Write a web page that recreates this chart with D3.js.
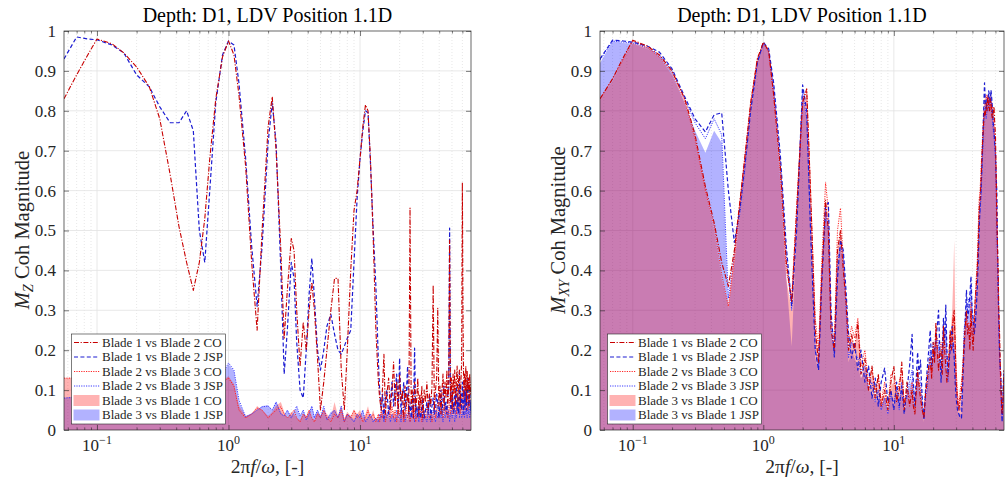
<!DOCTYPE html>
<html>
<head>
<meta charset="utf-8">
<script src="https://cdn.jsdelivr.net/npm/d3@7"></script>
<style>
  body { margin: 0; background: #fff; }
  text { font-family: "Liberation Serif", "DejaVu Serif", serif; fill: #262626; }
</style>
</head>
<body>
<svg width="1008" height="481"></svg>
<script>
// frequency ratio 2*pi*f/omega, shared by every series
var freq = [0.0561,0.07,0.085,0.1,0.13,0.16,0.2,0.25,0.3,0.36,
  0.42,0.48,0.54,0.6,0.66,0.72,0.8,0.9,1.0,1.1,
  1.2,1.35,1.5,1.65,1.8,2.0,2.15,2.3,2.5,2.65,
  2.8,3.0,3.15,3.3,3.5,3.7,3.9,4.1,4.3,4.5,
  4.75,5.0,5.3,5.6,6.0,6.4,6.8,7.2,7.6,8.0,
  8.5,9.0,9.5,10,10.5,11,11.5,12,12.6,13.2,
  13.8,14.1,14.5,14.85,15.2,15.6,16,16.5,17,17.5,
  18,18.5,19,19.5,20,20.5,21,21.5,22,22.5,
  23,23.5,24,24.5,25,25.5,26,26.5,27,27.5,
  28,28.5,29,29.5,30,30.75,31.5,32.25,33,33.75,
  34.5,35.25,36,36.75,37.5,38.25,39,39.75,40.5,41.25,
  42,42.75,43.5,44.25,45,45.75,46.5,47.25,48,48.75,
  49.5,50.25,51,51.75,52.5,53.25,54,54.75,55.5,56.25,
  57,57.75,58.5,59.25,60,60.75,61.5,62.25,63,63.75,
  64.5,65.25,66,66.75,67.5,68.25,69,69.8];

// M_Z coherence (left panel)
var mzCo12 = [0.83,0.89,0.94,0.98,0.968,0.945,0.91,0.86,0.78,0.64,
  0.51,0.42,0.35,0.42,0.53,0.68,0.83,0.935,0.975,0.94,
  0.84,0.66,0.42,0.25,0.5,0.76,0.835,0.7,0.45,0.23,
  0.35,0.48,0.45,0.3,0.16,0.27,0.2,0.3,0.37,0.3,
  0.18,0.05,0.12,0.2,0.3,0.38,0.38,0.15,0.05,0.2,
  0.4,0.55,0.6,0.68,0.76,0.815,0.8,0.68,0.48,0.25,
  0.12,0.08,0.05,0.11,0.19,0.04,0.09,0.13,0.05,0.1,
  0.17,0.06,0.12,0.04,0.14,0.07,0.1,0.03,0.11,0.06,
  0.09,0.04,0.556,0.06,0.1,0.03,0.12,0.05,0.08,0.13,
  0.04,0.09,0.06,0.11,0.03,0.1,0.07,0.12,0.05,0.09,
  0.06,0.11,0.363,0.05,0.1,0.13,0.305,0.06,0.11,0.04,
  0.1,0.14,0.05,0.12,0.08,0.15,0.06,0.11,0.476,0.07,
  0.13,0.05,0.14,0.09,0.15,0.06,0.12,0.16,0.07,0.13,
  0.15,0.06,0.12,0.17,0.62,0.27,0.08,0.14,0.1,0.16,
  0.07,0.15,0.1,0.13,0.06,0.14,0.09,0.12];
var mzJsp12 = [0.93,0.985,0.98,0.978,0.965,0.945,0.89,0.86,0.81,0.77,
  0.77,0.8,0.75,0.5,0.42,0.6,0.82,0.94,0.975,0.965,
  0.87,0.68,0.46,0.31,0.46,0.72,0.82,0.72,0.4,0.14,
  0.25,0.42,0.38,0.22,0.1,0.08,0.2,0.34,0.43,0.33,
  0.2,0.15,0.2,0.26,0.29,0.24,0.2,0.19,0.21,0.23,
  0.25,0.42,0.58,0.68,0.75,0.8,0.795,0.67,0.5,0.36,
  0.17,0.1,0.05,0.09,0.03,0.08,0.1,0.04,0.07,0.12,
  0.06,0.1,0.14,0.05,0.18,0.04,0.08,0.12,0.05,0.09,
  0.16,0.04,0.07,0.03,0.08,0.05,0.205,0.04,0.06,0.03,
  0.07,0.04,0.03,0.06,0.08,0.03,0.05,0.07,0.04,0.09,
  0.03,0.06,0.08,0.04,0.05,0.09,0.07,0.03,0.06,0.1,
  0.04,0.08,0.11,0.05,0.07,0.04,0.09,0.12,0.506,0.06,
  0.05,0.1,0.07,0.04,0.09,0.06,0.11,0.05,0.08,0.04,
  0.143,0.06,0.09,0.05,0.12,0.07,0.04,0.1,0.06,0.11,
  0.05,0.09,0.13,0.06,0.08,0.11,0.05,0.07];
var mzCo23 = [0.13,0.13,0.125,0.12,0.115,0.11,0.1,0.1,0.09,0.08,
  0.07,0.06,0.05,0.05,0.06,0.08,0.1,0.12,0.13,0.11,
  0.05,0.03,0.04,0.055,0.05,0.03,0.04,0.05,0.058,0.04,
  0.03,0.04,0.05,0.03,0.02,0.04,0.03,0.05,0.03,0.02,
  0.04,0.03,0.05,0.03,0.02,0.04,0.03,0.05,0.02,0.04,
  0.03,0.05,0.03,0.04,0.02,0.03,0.05,0.03,0.04,0.02,
  0.04,0.02,0.05,0.03,0.06,0.02,0.04,0.05,0.03,0.06,
  0.03,0.05,0.02,0.06,0.04,0.03,0.05,0.02,0.04,0.06,
  0.03,0.05,0.02,0.04,0.06,0.03,0.05,0.02,0.04,0.03,
  0.05,0.03,0.06,0.02,0.04,0.05,0.03,0.06,0.04,0.03,
  0.05,0.02,0.04,0.06,0.03,0.05,0.07,0.03,0.05,0.04,
  0.06,0.03,0.05,0.07,0.04,0.06,0.03,0.05,0.08,0.04,
  0.06,0.08,0.04,0.07,0.05,0.09,0.04,0.06,0.08,0.05,
  0.07,0.04,0.09,0.05,0.07,0.1,0.06,0.08,0.05,0.09,
  0.06,0.1,0.05,0.08,0.06,0.09,0.07,0.06];
var mzJsp23 = [0.08,0.082,0.085,0.087,0.09,0.09,0.088,0.085,0.08,0.075,
  0.07,0.065,0.06,0.065,0.075,0.09,0.11,0.14,0.168,0.15,
  0.075,0.033,0.04,0.05,0.058,0.06,0.05,0.07,0.04,0.035,
  0.05,0.03,0.045,0.06,0.035,0.05,0.025,0.04,0.06,0.03,
  0.05,0.03,0.06,0.025,0.04,0.05,0.03,0.06,0.02,0.04,
  0.03,0.02,0.04,0.03,0.05,0.02,0.03,0.04,0.02,0.03,
  0.02,0.04,0.03,0.05,0.02,0.04,0.03,0.05,0.02,0.04,
  0.03,0.02,0.05,0.03,0.04,0.02,0.05,0.03,0.02,0.04,
  0.03,0.05,0.02,0.04,0.03,0.06,0.02,0.04,0.03,0.05,
  0.02,0.04,0.03,0.05,0.02,0.04,0.03,0.02,0.05,0.03,
  0.02,0.04,0.05,0.03,0.02,0.05,0.03,0.04,0.06,0.03,
  0.04,0.02,0.05,0.03,0.04,0.06,0.03,0.05,0.02,0.04,
  0.05,0.03,0.06,0.04,0.02,0.05,0.03,0.06,0.04,0.05,
  0.03,0.06,0.05,0.03,0.04,0.06,0.05,0.03,0.06,0.04,
  0.05,0.03,0.06,0.04,0.06,0.03,0.05,0.04];
var mzCo31 = [0.13,0.132,0.13,0.125,0.12,0.115,0.105,0.1,0.092,0.085,
  0.075,0.065,0.055,0.055,0.065,0.085,0.105,0.125,0.135,0.115,
  0.06,0.035,0.04,0.06,0.05,0.035,0.045,0.06,0.07,0.045,
  0.03,0.045,0.04,0.03,0.025,0.04,0.035,0.05,0.03,0.025,
  0.045,0.035,0.05,0.04,0.03,0.07,0.035,0.06,0.03,0.045,
  0.035,0.05,0.04,0.05,0.03,0.04,0.06,0.03,0.05,0.025,
  0.04,0.03,0.05,0.04,0.03,0.05,0.03,0.04,0.06,0.03,
  0.05,0.04,0.03,0.06,0.03,0.05,0.04,0.03,0.05,0.04,
  0.03,0.05,0.04,0.03,0.06,0.04,0.03,0.05,0.04,0.03,
  0.05,0.03,0.04,0.06,0.03,0.05,0.03,0.04,0.05,0.03,
  0.05,0.04,0.03,0.05,0.04,0.06,0.03,0.05,0.04,0.03,
  0.05,0.04,0.03,0.06,0.04,0.05,0.03,0.05,0.06,0.04,
  0.04,0.06,0.05,0.04,0.07,0.05,0.04,0.06,0.05,0.07,
  0.06,0.05,0.07,0.05,0.08,0.06,0.05,0.07,0.06,0.05,
  0.07,0.06,0.05,0.07,0.06,0.05,0.07,0.05];
var mzJsp31 = [0.08,0.085,0.09,0.09,0.092,0.092,0.09,0.086,0.082,0.078,
  0.072,0.067,0.062,0.068,0.08,0.095,0.115,0.14,0.165,0.148,
  0.07,0.035,0.042,0.05,0.06,0.062,0.05,0.072,0.045,0.035,
  0.05,0.035,0.045,0.055,0.035,0.05,0.03,0.045,0.06,0.035,
  0.05,0.035,0.055,0.03,0.045,0.05,0.035,0.06,0.025,0.04,
  0.035,0.025,0.04,0.035,0.05,0.025,0.035,0.04,0.025,0.03,
  0.025,0.035,0.04,0.03,0.045,0.03,0.05,0.035,0.025,0.04,
  0.035,0.03,0.04,0.025,0.035,0.045,0.03,0.04,0.05,0.03,
  0.025,0.035,0.04,0.03,0.05,0.035,0.025,0.04,0.03,0.035,
  0.04,0.025,0.035,0.03,0.025,0.04,0.03,0.045,0.03,0.05,
  0.025,0.035,0.04,0.03,0.025,0.045,0.035,0.03,0.05,0.04,
  0.03,0.04,0.025,0.045,0.035,0.04,0.03,0.05,0.035,0.04,
  0.05,0.035,0.04,0.03,0.025,0.05,0.035,0.045,0.04,0.03,
  0.055,0.035,0.045,0.03,0.05,0.04,0.055,0.035,0.045,0.05,
  0.05,0.04,0.035,0.055,0.045,0.035,0.05,0.045];

// M_XY coherence (right panel)
var mxyCo12 = [0.83,0.88,0.935,0.977,0.962,0.94,0.9,0.83,0.74,0.61,
  0.52,0.42,0.36,0.45,0.57,0.68,0.82,0.93,0.972,0.95,
  0.84,0.66,0.42,0.32,0.55,0.82,0.855,0.6,0.25,0.17,
  0.38,0.576,0.5,0.25,0.2,0.45,0.5,0.4,0.32,0.2,
  0.24,0.2,0.27,0.14,0.18,0.1,0.16,0.08,0.14,0.06,
  0.1,0.05,0.12,0.16,0.07,0.1,0.17,0.05,0.12,0.06,
  0.1,0.06,0.04,0.1,0.15,0.11,0.08,0.05,0.03,0.09,
  0.12,0.16,0.18,0.13,0.22,0.17,0.27,0.2,0.15,0.19,
  0.2,0.14,0.26,0.2,0.16,0.12,0.14,0.19,0.25,0.2,
  0.22,0.28,0.3,0.22,0.12,0.07,0.05,0.08,0.1,0.15,
  0.22,0.26,0.3,0.24,0.26,0.2,0.3,0.24,0.2,0.27,
  0.33,0.36,0.4,0.46,0.55,0.58,0.62,0.68,0.73,0.77,
  0.8,0.79,0.82,0.8,0.835,0.81,0.8,0.83,0.82,0.79,
  0.78,0.8,0.81,0.77,0.744,0.65,0.53,0.46,0.4,0.3,
  0.25,0.17,0.12,0.07,0.04,0.07,0.1,0.15];
var mxyJsp12 = [0.93,0.977,0.975,0.972,0.962,0.947,0.905,0.835,0.78,0.747,
  0.79,0.795,0.6,0.47,0.55,0.66,0.8,0.92,0.972,0.955,
  0.87,0.69,0.46,0.31,0.5,0.865,0.8,0.5,0.2,0.15,
  0.36,0.56,0.57,0.3,0.183,0.38,0.476,0.45,0.35,0.24,
  0.18,0.22,0.15,0.2,0.12,0.16,0.08,0.13,0.06,0.12,
  0.155,0.07,0.1,0.05,0.12,0.06,0.11,0.04,0.1,0.16,
  0.24,0.12,0.06,0.13,0.195,0.14,0.175,0.08,0.025,0.1,
  0.15,0.2,0.25,0.16,0.18,0.2,0.22,0.26,0.3,0.2,
  0.12,0.2,0.28,0.22,0.313,0.2,0.14,0.17,0.2,0.24,
  0.26,0.21,0.18,0.12,0.08,0.05,0.04,0.03,0.03,0.12,
  0.2,0.28,0.35,0.28,0.3,0.34,0.385,0.3,0.28,0.24,
  0.26,0.3,0.35,0.42,0.5,0.56,0.6,0.66,0.727,0.8,
  0.87,0.82,0.8,0.83,0.82,0.85,0.84,0.82,0.852,0.83,
  0.8,0.77,0.75,0.72,0.7,0.64,0.6,0.46,0.36,0.27,
  0.2,0.16,0.14,0.06,0.02,0.06,0.12,0.14];
var mxyCo23 = [0.83,0.88,0.93,0.975,0.958,0.935,0.895,0.825,0.73,0.6,
  0.51,0.39,0.31,0.43,0.56,0.68,0.82,0.93,0.97,0.945,
  0.84,0.64,0.4,0.33,0.56,0.83,0.85,0.6,0.28,0.2,
  0.42,0.62,0.55,0.28,0.22,0.5,0.556,0.42,0.33,0.22,
  0.26,0.23,0.28,0.16,0.2,0.12,0.15,0.1,0.13,0.07,
  0.12,0.06,0.14,0.13,0.08,0.12,0.15,0.07,0.1,0.08,
  0.12,0.08,0.05,0.09,0.13,0.12,0.1,0.06,0.04,0.1,
  0.14,0.15,0.16,0.14,0.2,0.18,0.25,0.21,0.18,0.2,
  0.22,0.18,0.24,0.22,0.2,0.17,0.16,0.2,0.24,0.22,
  0.26,0.29,0.28,0.2,0.15,0.09,0.06,0.1,0.12,0.16,
  0.2,0.24,0.28,0.26,0.27,0.24,0.32,0.26,0.22,0.28,
  0.32,0.38,0.42,0.5,0.576,0.6,0.65,0.7,0.75,0.79,
  0.82,0.83,0.84,0.82,0.84,0.83,0.83,0.81,0.8,0.82,
  0.81,0.78,0.76,0.73,0.7,0.62,0.55,0.44,0.33,0.27,
  0.22,0.15,0.1,0.07,0.05,0.06,0.08,0.13];
var mxyJsp23 = [0.927,0.975,0.972,0.97,0.957,0.94,0.9,0.83,0.77,0.73,
  0.78,0.74,0.33,0.44,0.54,0.65,0.8,0.92,0.968,0.95,
  0.86,0.67,0.44,0.3,0.52,0.85,0.78,0.52,0.2,0.16,
  0.38,0.55,0.5,0.26,0.19,0.42,0.46,0.44,0.3,0.18,
  0.22,0.2,0.18,0.14,0.16,0.1,0.12,0.07,0.1,0.05,
  0.08,0.04,0.09,0.07,0.1,0.05,0.12,0.06,0.08,0.12,
  0.15,0.1,0.07,0.1,0.14,0.13,0.12,0.07,0.03,0.08,
  0.1,0.15,0.2,0.18,0.22,0.19,0.2,0.23,0.22,0.17,
  0.15,0.2,0.25,0.23,0.26,0.18,0.12,0.17,0.22,0.21,
  0.2,0.22,0.2,0.14,0.1,0.07,0.05,0.05,0.06,0.15,
  0.25,0.28,0.32,0.3,0.33,0.32,0.36,0.3,0.25,0.26,
  0.28,0.33,0.38,0.45,0.52,0.55,0.58,0.64,0.7,0.76,
  0.8,0.79,0.78,0.8,0.8,0.81,0.82,0.83,0.83,0.8,
  0.77,0.75,0.74,0.71,0.68,0.6,0.5,0.42,0.35,0.25,
  0.18,0.15,0.12,0.07,0.03,0.06,0.1,0.15];
var mxyCo31 = [0.83,0.875,0.93,0.97,0.958,0.935,0.89,0.82,0.73,0.6,
  0.5,0.38,0.31,0.45,0.58,0.69,0.82,0.93,0.968,0.945,
  0.83,0.62,0.38,0.3,0.55,0.82,0.84,0.58,0.25,0.18,
  0.4,0.58,0.5,0.24,0.2,0.45,0.5,0.4,0.3,0.2,
  0.24,0.2,0.26,0.13,0.17,0.1,0.14,0.08,0.12,0.06,
  0.09,0.05,0.11,0.12,0.07,0.09,0.14,0.05,0.1,0.07,
  0.1,0.07,0.04,0.09,0.13,0.1,0.08,0.05,0.03,0.08,
  0.12,0.14,0.17,0.15,0.2,0.19,0.25,0.2,0.15,0.17,
  0.18,0.15,0.24,0.2,0.16,0.14,0.13,0.18,0.23,0.26,
  0.3,0.38,0.476,0.3,0.2,0.1,0.05,0.07,0.09,0.14,
  0.2,0.24,0.28,0.25,0.25,0.22,0.3,0.24,0.2,0.26,
  0.31,0.36,0.4,0.48,0.55,0.58,0.62,0.68,0.74,0.78,
  0.8,0.81,0.82,0.83,0.84,0.84,0.83,0.84,0.84,0.82,
  0.8,0.79,0.78,0.75,0.7,0.63,0.56,0.46,0.38,0.29,
  0.22,0.16,0.12,0.07,0.04,0.07,0.1,0.14];
var mxyJsp31 = [0.92,0.975,0.97,0.968,0.955,0.94,0.895,0.82,0.75,0.695,
  0.75,0.72,0.305,0.42,0.53,0.65,0.79,0.92,0.968,0.95,
  0.85,0.64,0.38,0.21,0.5,0.84,0.78,0.5,0.18,0.15,
  0.35,0.55,0.5,0.26,0.18,0.4,0.46,0.42,0.3,0.17,
  0.2,0.18,0.16,0.13,0.15,0.1,0.09,0.07,0.08,0.06,
  0.08,0.04,0.09,0.06,0.09,0.05,0.1,0.04,0.08,0.11,
  0.13,0.09,0.05,0.1,0.15,0.12,0.1,0.05,0.02,0.07,
  0.1,0.15,0.2,0.17,0.18,0.19,0.2,0.21,0.22,0.17,
  0.12,0.19,0.25,0.22,0.26,0.18,0.12,0.16,0.2,0.21,
  0.22,0.21,0.2,0.14,0.08,0.05,0.04,0.04,0.04,0.12,
  0.2,0.25,0.3,0.28,0.3,0.32,0.34,0.28,0.24,0.25,
  0.27,0.31,0.36,0.43,0.5,0.55,0.6,0.66,0.72,0.78,
  0.82,0.82,0.82,0.83,0.83,0.84,0.84,0.84,0.85,0.83,
  0.81,0.78,0.76,0.73,0.7,0.62,0.55,0.44,0.34,0.26,
  0.2,0.14,0.1,0.06,0.03,0.06,0.09,0.14];

var seriesNames = ["Blade 1 vs Blade 2 CO", "Blade 1 vs Blade 2 JSP",
  "Blade 2 vs Blade 3 CO", "Blade 2 vs Blade 3 JSP",
  "Blade 3 vs Blade 1 CO", "Blade 3 vs Blade 1 JSP"];
var xMajor = [0.1, 1, 10];
var xMinor = [0.06,0.07,0.08,0.09,0.2,0.3,0.4,0.5,0.6,0.7,0.8,0.9,
  2,3,4,5,6,7,8,9,20,30,40,50,60];
var yTicks = [0,0.1,0.2,0.3,0.4,0.5,0.6,0.7,0.8,0.9,1];

var lineStyles = [
  {color: "#c80000", dash: "5,1.6,1.2,1.6", width: 1.1},
  {color: "#1c1cd2", dash: "4,2.4", width: 1.2},
  {color: "#ff2626", dash: "1.2,1.2", width: 1},
  {color: "#3a3aff", dash: "1.2,1.2", width: 1}
];
var fillColors = ["#ff0000", "#0000ff"];

var svg = d3.select("svg");
var plotTop = 31, plotBottom = 430;

var panels = [
  {left: 64, right: 471, sub: "Z", lines: [mzCo12, mzJsp12, mzCo23, mzJsp23], fills: [mzCo31, mzJsp31]},
  {left: 600, right: 1004, sub: "XY", lines: [mxyCo12, mxyJsp12, mxyCo23, mxyJsp23], fills: [mxyCo31, mxyJsp31]}
];

panels.forEach(function(p, pi) {
  var x = d3.scaleLog().domain([0.0561, 69.8]).range([p.left, p.right]);
  var y = d3.scaleLinear().domain([0, 1]).range([plotBottom, plotTop]);
  var g = svg.append("g");

  // grid
  g.append("g").selectAll("line").data(xMinor).enter().append("line")
    .attr("x1", d => x(d)).attr("x2", d => x(d)).attr("y1", plotTop).attr("y2", plotBottom)
    .attr("stroke", "#d6d6d6").attr("stroke-dasharray", "1,2").attr("stroke-width", 0.6);
  g.append("g").selectAll("line").data(xMajor).enter().append("line")
    .attr("x1", d => x(d)).attr("x2", d => x(d)).attr("y1", plotTop).attr("y2", plotBottom)
    .attr("stroke", "#e2e2e2").attr("stroke-width", 0.8);
  g.append("g").selectAll("line").data(yTicks.slice(1, 10)).enter().append("line")
    .attr("x1", p.left).attr("x2", p.right).attr("y1", d => y(d)).attr("y2", d => y(d))
    .attr("stroke", "#e2e2e2").attr("stroke-width", 0.8);

  svg.append("clipPath").attr("id", "clip" + pi).append("rect")
    .attr("x", p.left).attr("y", plotTop).attr("width", p.right - p.left).attr("height", plotBottom - plotTop);
  var plot = g.append("g").attr("clip-path", "url(#clip" + pi + ")");

  var area = d3.area().x((d, i) => x(freq[i])).y0(y(0)).y1(d => y(d));
  var line = d3.line().x((d, i) => x(freq[i])).y(d => y(d));

  // JSP fill first, CO fill on top
  plot.append("path").datum(p.fills[1]).attr("d", area)
    .attr("fill", fillColors[1]).attr("fill-opacity", 0.3);
  plot.append("path").datum(p.fills[0]).attr("d", area)
    .attr("fill", fillColors[0]).attr("fill-opacity", 0.3);

  [3, 2, 1, 0].forEach(function(k) {
    var s = lineStyles[k];
    plot.append("path").datum(p.lines[k]).attr("d", line)
      .attr("fill", "none").attr("stroke", s.color).attr("stroke-width", s.width)
      .attr("stroke-dasharray", s.dash).attr("stroke-linejoin", "round");
  });

  // ticks, pointing inwards on all four sides
  function styleAxis(sel) {
    sel.attr("font-family", null);
    sel.select(".domain").remove();
    sel.selectAll("line").attr("stroke", "#262626").attr("stroke-width", 0.6);
  }
  g.append("g").attr("transform", "translate(0," + plotBottom + ")")
    .call(d3.axisBottom(x).tickValues(xMajor).tickSize(-5).tickFormat("")).call(styleAxis);
  g.append("g").attr("transform", "translate(0," + plotBottom + ")")
    .call(d3.axisBottom(x).tickValues(xMinor).tickSize(-2.5).tickFormat("")).call(styleAxis);
  g.append("g").attr("transform", "translate(0," + plotTop + ")")
    .call(d3.axisTop(x).tickValues(xMajor).tickSize(-5).tickFormat("")).call(styleAxis);
  g.append("g").attr("transform", "translate(0," + plotTop + ")")
    .call(d3.axisTop(x).tickValues(xMinor).tickSize(-2.5).tickFormat("")).call(styleAxis);

  var yl = g.append("g").attr("transform", "translate(" + p.left + ",0)")
    .call(d3.axisLeft(y).tickValues(yTicks).tickSize(-5).tickPadding(8).tickFormat(d3.format("~g")))
    .call(styleAxis);
  yl.selectAll("text").attr("font-size", 17).attr("fill", "#262626");
  g.append("g").attr("transform", "translate(" + p.right + ",0)")
    .call(d3.axisRight(y).tickValues(yTicks).tickSize(-5).tickFormat("")).call(styleAxis);

  // x tick labels 10^n
  var xt = g.append("g").selectAll("text").data(xMajor).enter().append("text")
    .attr("x", d => x(d)).attr("y", 451).attr("text-anchor", "middle").attr("font-size", 17);
  xt.append("tspan").text("10");
  xt.append("tspan").attr("dy", -7).attr("font-size", 12)
    .text(d => String(Math.round(Math.log10(d))).replace("-", "\u2212"));

  // box
  g.append("rect").attr("x", p.left).attr("y", plotTop)
    .attr("width", p.right - p.left).attr("height", plotBottom - plotTop)
    .attr("fill", "none").attr("stroke", "#262626").attr("stroke-width", 0.7);

  var cx = (p.left + p.right) / 2;
  g.append("text").attr("x", cx).attr("y", 22).attr("text-anchor", "middle")
    .attr("font-size", 20).style("fill", "#000").text("Depth: D1, LDV Position 1.1D");

  var xl = g.append("text").attr("x", cx).attr("y", 473).attr("text-anchor", "middle").attr("font-size", 19.5);
  xl.append("tspan").text("2\u03c0");
  xl.append("tspan").attr("font-style", "italic").text("f");
  xl.append("tspan").text("/");
  xl.append("tspan").attr("font-style", "italic").text("\u03c9");
  xl.append("tspan").text(", [-]");

  var ylab = g.append("text").attr("transform", "translate(" + (p.left - 35) + ",230) rotate(-90)")
    .attr("text-anchor", "middle").attr("font-size", 20.5);
  ylab.append("tspan").attr("font-style", "italic").text("M");
  ylab.append("tspan").attr("font-style", "italic").attr("font-size", 14.5).attr("dy", 4).text(p.sub);
  ylab.append("tspan").attr("dy", -4).text(" Coh Magnitude");

  // legend
  var lx = p.left + 7.5, ly = 334;
  var leg = g.append("g").attr("transform", "translate(" + lx + "," + ly + ")");
  leg.append("rect").attr("width", 154).attr("height", 90)
    .attr("fill", "#fff").attr("stroke", "#262626").attr("stroke-width", 0.6);
  var rows = leg.selectAll("g").data(seriesNames).enter().append("g")
    .attr("transform", (d, i) => "translate(0," + (8.5 + i * 14.5) + ")");
  rows.each(function(d, i) {
    var r = d3.select(this);
    if (i < 4) {
      var s = lineStyles[i];
      r.append("line").attr("x1", 2.5).attr("x2", 28).attr("y1", 0).attr("y2", 0)
        .attr("stroke", s.color).attr("stroke-width", s.width).attr("stroke-dasharray", s.dash);
    } else {
      r.append("rect").attr("x", 2).attr("y", -5.5).attr("width", 26).attr("height", 11)
        .attr("fill", fillColors[i - 4]).attr("fill-opacity", 0.3);
    }
    r.append("text").attr("x", 30.5).attr("y", 4.3).attr("font-size", 13).text(d);
  });
});
</script>
</body>
</html>
